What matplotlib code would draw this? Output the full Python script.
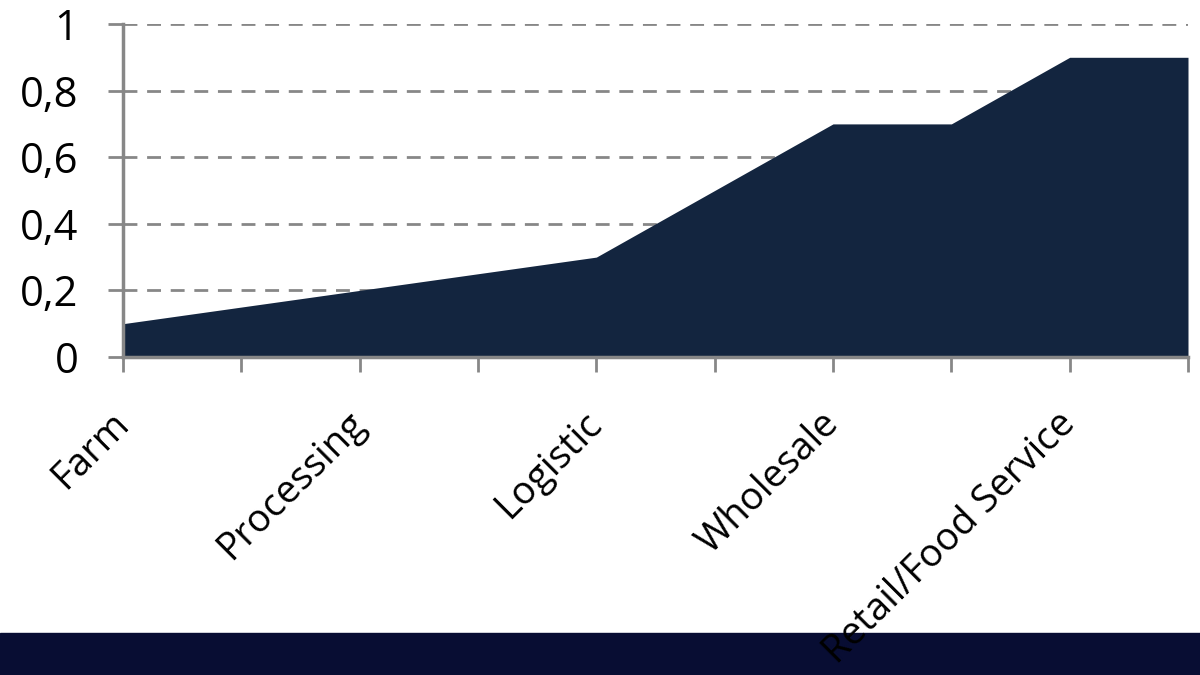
import numpy as np
import matplotlib.pyplot as plt
from matplotlib.patches import Rectangle

plt.rcParams['font.family'] = ['Open Sans', 'DejaVu Sans']

# data
stages = ['Farm', '', 'Processing', '', 'Logistic', '', 'Wholesale', '', 'Retail/Food Service', '']
values = [0.1, 0.15, 0.2, 0.25, 0.3, 0.5, 0.7, 0.7, 0.9, 0.9]
yticks = [0, 0.2, 0.4, 0.6, 0.8, 1]
ylabels = ['0', '0,2', '0,4', '0,6', '0,8', '1']

fig = plt.figure(figsize=(12, 6.75), dpi=100)
# dark band at bottom, kept under the axis labels
fig.patches.append(Rectangle((0, 0), 1, 42/675, transform=fig.transFigure,
                             color='#080d33', zorder=-5))

ax = fig.add_axes([123/1200, 1-357/675, (1188-123)/1200, 333/675])
ax.patch.set_alpha(0)
x = np.arange(len(values))
ax.fill_between(x, 0, values, color='#13253f', zorder=3, lw=0)

ax.set_xlim(0, len(values)-1)
ax.set_ylim(0, 1)
ax.set_yticks(yticks)
ax.set_yticklabels(ylabels, fontsize=30)
ax.set_xticks(x)
ax.set_xticklabels(stages, fontsize=27.5, rotation=45, ha='right', va='center',
                   rotation_mode='anchor')
ax.tick_params(axis='both', color='#878787', width=2, length=11)
ax.tick_params(axis='y', pad=21)
ax.tick_params(axis='x', pad=33)

for v in yticks[1:]:
    ax.axhline(v, color='#878787', lw=2, ls=(0, (5, 3.5)), zorder=2)

for s in ['top', 'right']:
    ax.spines[s].set_visible(False)
for s in ['left', 'bottom']:
    ax.spines[s].set_color('#878787')
    ax.spines[s].set_linewidth(2.5)
    ax.spines[s].set_zorder(4)

plt.savefig('out.png', dpi=100)
